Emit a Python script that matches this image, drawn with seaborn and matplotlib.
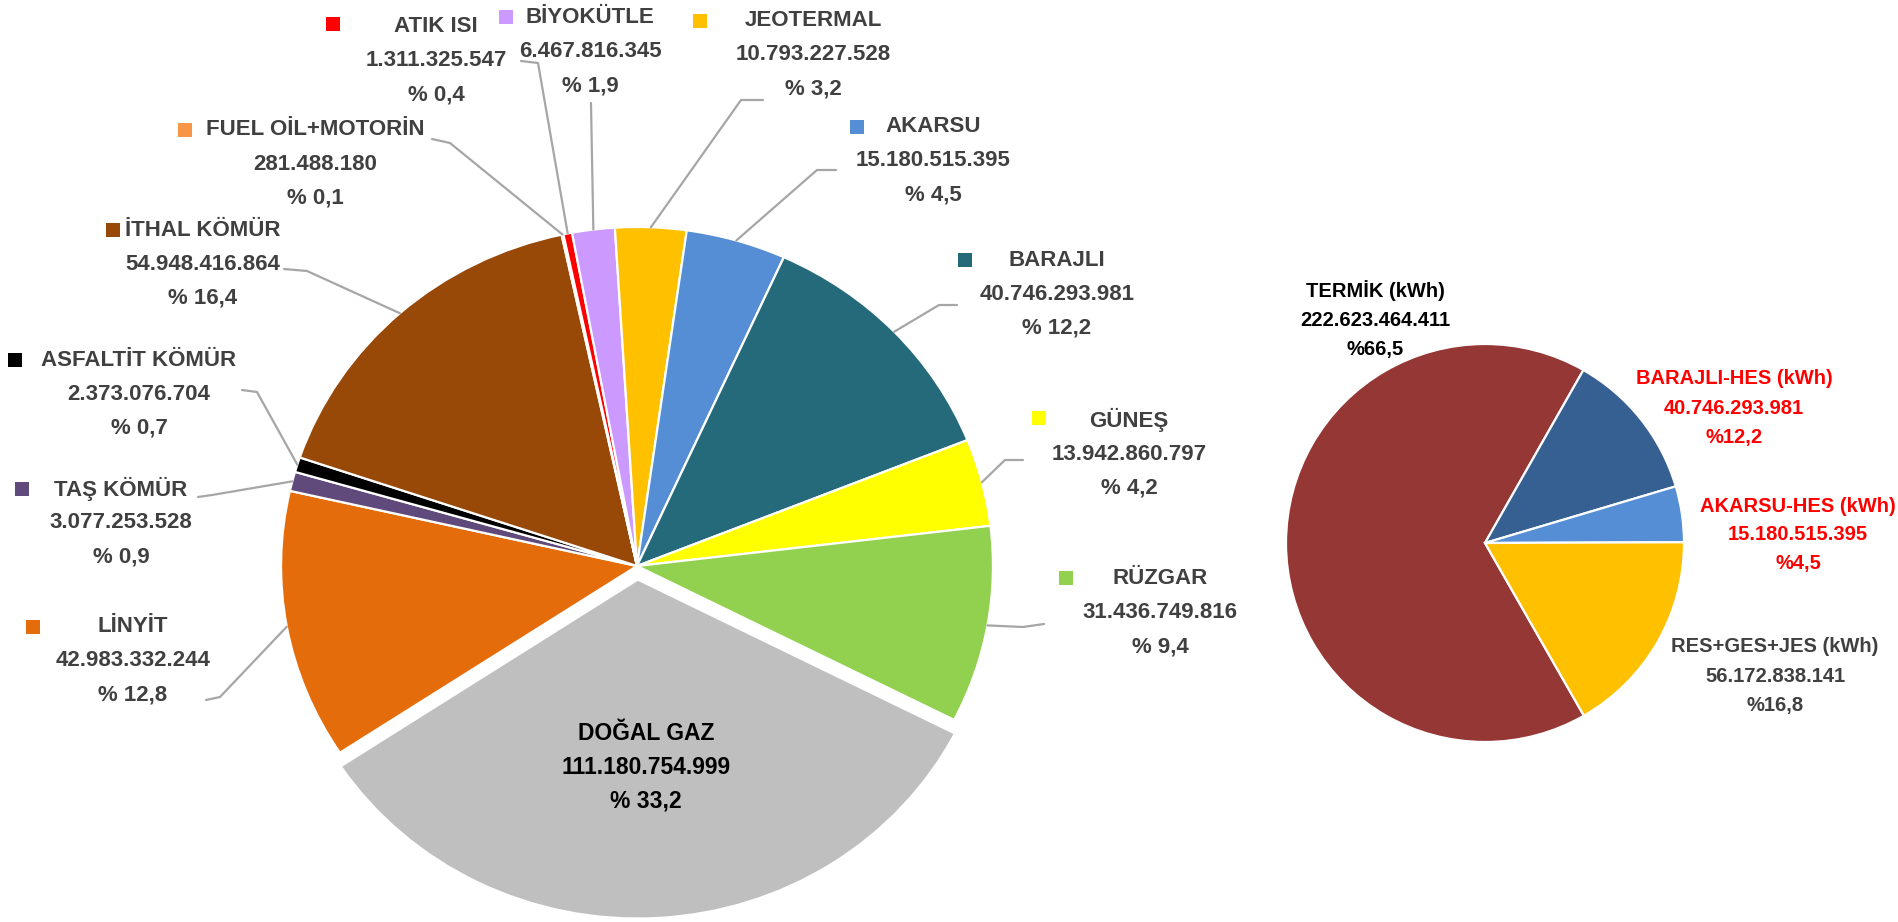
import numpy as np
import matplotlib
matplotlib.use("Agg")
import matplotlib.pyplot as plt
from matplotlib.transforms import Affine2D
import seaborn as sns

# Electricity generation by source (kWh), clockwise starting with DOĞAL GAZ
sources = ['DOĞAL GAZ', 'LİNYİT', 'TAŞ KÖMÜR', 'ASFALTİT KÖMÜR', 'İTHAL KÖMÜR',
           'FUEL OİL+MOTORİN', 'ATIK ISI', 'BİYOKÜTLE', 'JEOTERMAL', 'AKARSU',
           'BARAJLI', 'GÜNEŞ', 'RÜZGAR']
generation = [111180754999, 42983332244, 3077253528, 2373076704, 54948416864,
              281488180, 1311325547, 6467816345, 10793227528, 15180515395,
              40746293981, 13942860797, 31436749816]
shares = ['33,2', '12,8', '0,9', '0,7', '16,4', '0,1', '0,4', '1,9', '3,2',
          '4,5', '12,2', '4,2', '9,4']
source_colors = ['#BFBFBF', '#E46C0A', '#604A7B', '#000000', '#984807',
                 '#F79646', '#FF0000', '#CC99FF', '#FFC000', '#558ED5',
                 '#256A7B', '#FFFF00', '#92D050']

# Grouped totals for the small pie, clockwise starting with TERMİK
groups = ['TERMİK (kWh)', 'BARAJLI-HES (kWh)', 'AKARSU-HES (kWh)', 'RES+GES+JES (kWh)']
group_generation = [222623464411, 40746293981, 15180515395, 56172838141]
group_shares = ['66,5', '12,2', '4,5', '16,8']
group_colors = ['#953735', '#376092', '#558ED5', '#FFC000']
group_text_colors = ['#000000', '#FF0000', '#FF0000', '#404040']

W, H = 1899, 922

# label layout in image pixels (x, y from top): marker, text centre of first line,
# leader-line start and elbow
label_layout = {
    'DOĞAL GAZ':        dict(text=(646, 733)),
    'LİNYİT':           dict(mark=(33, 627), text=(133, 627), line=[(206, 700), (220, 697)]),
    'TAŞ KÖMÜR':        dict(mark=(22, 489), text=(121, 489), line=[(198, 497), (212, 495)]),
    'ASFALTİT KÖMÜR':   dict(mark=(15, 360), text=(139, 360), line=[(242, 390), (257, 392)]),
    'İTHAL KÖMÜR':      dict(mark=(113, 230), text=(203, 230), line=[(284, 269), (307, 271)]),
    'FUEL OİL+MOTORİN': dict(mark=(185, 130), text=(315, 130), line=[(432, 139), (450, 143)]),
    'ATIK ISI':         dict(mark=(333, 24), text=(436, 27), line=[(521, 61), (538, 63)]),
    'BİYOKÜTLE':        dict(mark=(506, 17), text=(590, 18), line=[(591, 103), (591, 104)]),
    'JEOTERMAL':        dict(mark=(700, 21), text=(813, 21), line=[(763, 100), (741, 100)]),
    'AKARSU':           dict(mark=(857, 127), text=(933, 127), line=[(836, 170), (817, 170)]),
    'BARAJLI':          dict(mark=(965, 260), text=(1057, 260), line=[(957, 305), (939, 305)]),
    'GÜNEŞ':            dict(mark=(1039, 418), text=(1129, 420), line=[(1023, 460), (1005, 460)]),
    'RÜZGAR':           dict(mark=(1066, 578), text=(1160, 579), line=[(1044, 624), (1023, 627)]),
}
group_layout = [(1375, 291), (1734, 379), (1798, 506), (1775, 647)]

big_center, big_radius, big_stretch = (637, 566), 339, 1.05
small_center, small_radius = (1485, 543), 199


def px(x, y):
    return x, H - y


def dotted(v):
    return f"{v:,}".replace(',', '.')


sns.set_style("white")
font = ['Liberation Sans', 'DejaVu Sans']

fig = plt.figure(figsize=(W / 100, H / 100), dpi=100)
ax = fig.add_axes([0, 0, 1, 1])

palette = sns.color_palette(source_colors)
# explode is in data units here, so scale the fraction by the radius
explode = [0.04 * big_radius if s == 'DOĞAL GAZ' else 0 for s in sources]
wedges, _ = ax.pie(generation, colors=palette, startangle=-27, counterclock=False,
                   center=px(*big_center), radius=big_radius, explode=explode,
                   wedgeprops=dict(edgecolor='white', linewidth=1.6))

small_wedges, _ = ax.pie(group_generation, colors=sns.color_palette(group_colors),
                         startangle=-60.2, counterclock=False,
                         center=px(*small_center), radius=small_radius,
                         wedgeprops=dict(edgecolor='white', linewidth=1.6))

ax.set_xlim(0, W)
ax.set_ylim(0, H)
ax.set_aspect('auto')
ax.axis('off')

# the big pie is a little wider than tall in the original
bcx, bcy = px(*big_center)
stretch = Affine2D().translate(-bcx, -bcy).scale(big_stretch, 1).translate(bcx, bcy)
for w in wedges:
    w.set_transform(stretch + ax.transData)

step = 34
for name, value, share, color, wedge in zip(sources, generation, shares,
                                            source_colors, wedges):
    lay = label_layout[name]
    tx, ty = lay['text']
    lines = [name, dotted(value), f"% {share}"]
    inside = name == 'DOĞAL GAZ'
    for i, line in enumerate(lines):
        ax.text(*px(tx, ty + i * step), line, ha='center', va='center',
                fontsize=16.5 if inside else 16, fontweight='bold',
                color='#000000' if inside else '#404040', family=font)
    if 'mark' in lay:
        ax.scatter(*px(*lay['mark']), marker='s', s=115, color=color,
                   linewidths=0, zorder=5)
    if 'line' in lay:
        mid = np.deg2rad((wedge.theta1 + wedge.theta2) / 2)
        cx, cy = wedge.center
        ex, ey = stretch.transform((cx + wedge.r * np.cos(mid), cy + wedge.r * np.sin(mid)))
        (sx, sy), (bx, by) = lay['line']
        xs = [px(sx, sy)[0], px(bx, by)[0], ex]
        ys = [px(sx, sy)[1], px(bx, by)[1], ey]
        ax.plot(xs, ys, color='#A6A6A6', linewidth=1.6, zorder=1)

gstep = 29
for name, value, share, tcolor, (tx, ty) in zip(groups, group_generation, group_shares,
                                                group_text_colors, group_layout):
    lines = [name, dotted(value), f"%{share}"]
    for i, line in enumerate(lines):
        ax.text(*px(tx, ty + i * gstep), line, ha='center', va='center',
                fontsize=14.5, fontweight='bold', color=tcolor, family=font)

fig.savefig('out.png', dpi=100, facecolor='white')
